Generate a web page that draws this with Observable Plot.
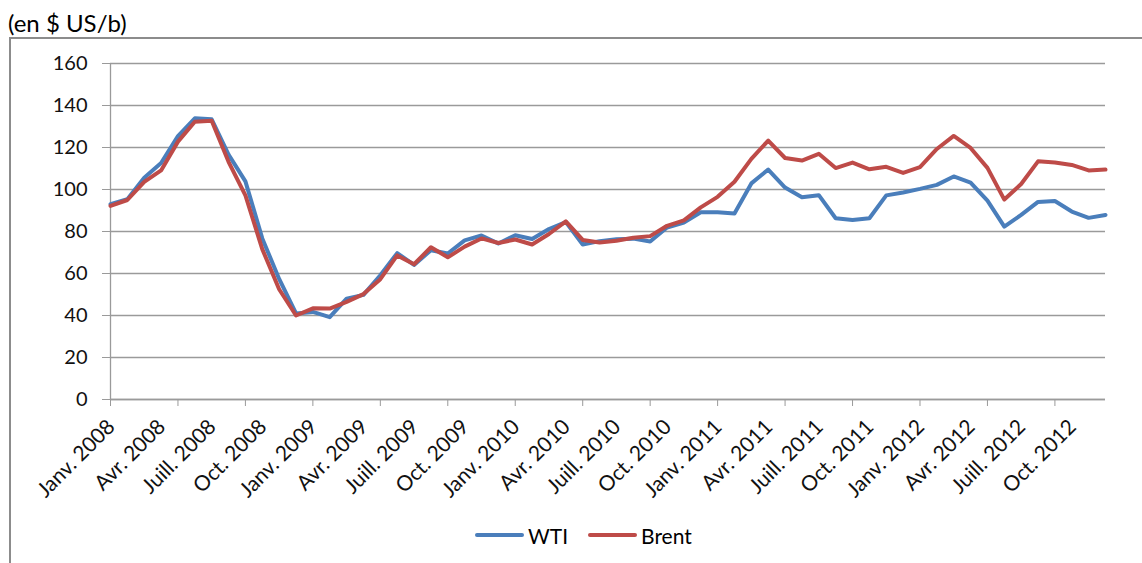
<!DOCTYPE html>
<html>
<head>
<meta charset="utf-8">
<script src="https://cdn.jsdelivr.net/npm/d3@7"></script>
<script src="https://cdn.jsdelivr.net/npm/@observablehq/plot@0.6"></script>
<style>
  html, body { margin: 0; padding: 0; background: #fff; width: 1142px; height: 563px; overflow: hidden; }
  body { position: relative; font-family: Lato, "Open Sans", sans-serif; color: #000; }
  #sub { position: absolute; left: 8px; top: 8px; font-size: 24px; line-height: 30px; white-space: nowrap; }
  #box { position: absolute; left: 9px; top: 37px; width: 1200px; height: 600px; border: 2px solid #8c8c8c; box-sizing: border-box; z-index: 3; pointer-events: none; }
  #chart { position: absolute; left: 0; top: 0; z-index: 1; }
  #legend { position: absolute; left: 475px; top: 521px; height: 28px; display: flex; align-items: center; font-size: 21px; z-index: 2; white-space: nowrap; }
  .item { display: flex; align-items: center; margin-right: 20px; }
  .swatch { width: 49px; height: 4px; border-radius: 2px; margin-right: 4px; }
</style>
</head>
<body>
<div id="sub">(en $ US/b)</div>
<div id="chart"></div>
<div id="legend"></div>
<div id="box"></div>
<script>
// Monthly categories (Jan 2008 – Dec 2012)
const months = [
  "Janv. 2008","Févr. 2008","Mars 2008","Avr. 2008","Mai 2008","Juin 2008","Juill. 2008","Août 2008","Sept. 2008","Oct. 2008","Nov. 2008","Déc. 2008",
  "Janv. 2009","Févr. 2009","Mars 2009","Avr. 2009","Mai 2009","Juin 2009","Juill. 2009","Août 2009","Sept. 2009","Oct. 2009","Nov. 2009","Déc. 2009",
  "Janv. 2010","Févr. 2010","Mars 2010","Avr. 2010","Mai 2010","Juin 2010","Juill. 2010","Août 2010","Sept. 2010","Oct. 2010","Nov. 2010","Déc. 2010",
  "Janv. 2011","Févr. 2011","Mars 2011","Avr. 2011","Mai 2011","Juin 2011","Juill. 2011","Août 2011","Sept. 2011","Oct. 2011","Nov. 2011","Déc. 2011",
  "Janv. 2012","Févr. 2012","Mars 2012","Avr. 2012","Mai 2012","Juin 2012","Juill. 2012","Août 2012","Sept. 2012","Oct. 2012","Nov. 2012","Déc. 2012"
];

// WTI (US$/b)
const wti = [
  93.0, 95.4, 105.6, 112.6, 125.4, 133.9, 133.4, 116.6, 103.9, 76.7, 57.4, 41.0,
  41.7, 39.2, 48.0, 49.8, 59.2, 69.7, 64.1, 71.1, 69.5, 75.8, 78.1, 74.3,
  78.2, 76.4, 81.2, 84.5, 73.8, 75.4, 76.3, 76.6, 75.2, 81.9, 84.3, 89.2,
  89.2, 88.6, 102.9, 109.5, 100.9, 96.3, 97.3, 86.3, 85.5, 86.3, 97.2, 98.6,
  100.3, 102.2, 106.2, 103.3, 94.7, 82.3, 87.9, 94.1, 94.5, 89.5, 86.5, 87.9
];

// Brent (US$/b)
const brent = [
  92.2, 95.0, 103.6, 109.1, 122.8, 132.3, 132.7, 113.2, 97.2, 71.6, 52.5, 40.0,
  43.4, 43.3, 46.5, 50.2, 57.3, 68.6, 64.4, 72.5, 67.7, 72.8, 76.7, 74.5,
  76.2, 73.8, 78.8, 84.8, 76.0, 74.8, 75.6, 77.0, 77.8, 82.7, 85.3, 91.5,
  96.5, 103.7, 114.6, 123.3, 115.0, 113.8, 117.0, 110.2, 112.8, 109.6, 110.8, 107.9,
  110.7, 119.3, 125.5, 119.8, 110.3, 95.2, 102.6, 113.4, 112.9, 111.7, 109.1, 109.5
];

const yTicks = [0, 20, 40, 60, 80, 100, 120, 140, 160];
const labelEvery = 3;   // a label every 3 months
const tickEvery = 4;    // a tick mark every 4 months

const series = [
  {name: "WTI", key: "wti", color: "#4A7EBB"},
  {name: "Brent", key: "brent", color: "#BE4B48"}
];

const GRID = "#9a9a9a";

const table = months.map((m, i) => ({i, m, wti: wti[i], brent: brent[i]}));
const labelIdx = d3.range(0, months.length, labelEvery);
const tickIdx = d3.range(0, months.length - 1, tickEvery);

const chart = Plot.plot({
  width: 1142,
  height: 500,
  marginLeft: 110,
  marginRight: 37,
  marginTop: 63,
  marginBottom: 101,
  x: {domain: [0, months.length - 1]},
  y: {domain: [0, 160]},
  style: {fontFamily: "Lato, 'Open Sans', sans-serif", fontSize: "20px", color: "#111", background: "transparent", overflow: "visible"},
  marks: [
    Plot.gridY(yTicks, {stroke: GRID, strokeOpacity: 1, strokeWidth: 1.3}),
    Plot.axisY(yTicks, {tickSize: 8, tickPadding: 15, stroke: GRID, strokeOpacity: 1, label: null, fontSize: 20, fill: "#111"}),
    Plot.axisX(tickIdx, {tickSize: 7, tickFormat: () => "", stroke: GRID, strokeOpacity: 1, label: null}),
    Plot.ruleX([0], {stroke: GRID, strokeWidth: 1.3}),
    Plot.ruleY([0], {stroke: GRID, strokeWidth: 1.3}),
    Plot.text(labelIdx, {
      x: d => d, frameAnchor: "bottom", text: d => months[d],
      rotate: -45, textAnchor: "end", lineAnchor: "top",
      dx: -5, dy: 18, fontSize: 21, fill: "#111"
    }),
    ...series.map(s => Plot.line(table, {
      x: "i", y: s.key, stroke: s.color, strokeWidth: 4,
      strokeLinejoin: "round", strokeLinecap: "round"
    }))
  ]
});
document.getElementById("chart").appendChild(chart);

const legend = document.getElementById("legend");
for (const s of series) {
  const item = document.createElement("div");
  item.className = "item";
  const sw = document.createElement("div");
  sw.className = "swatch";
  sw.style.background = s.color;
  const lab = document.createElement("span");
  lab.textContent = s.name;
  item.appendChild(sw);
  item.appendChild(lab);
  legend.appendChild(item);
}
</script>
</body>
</html>
